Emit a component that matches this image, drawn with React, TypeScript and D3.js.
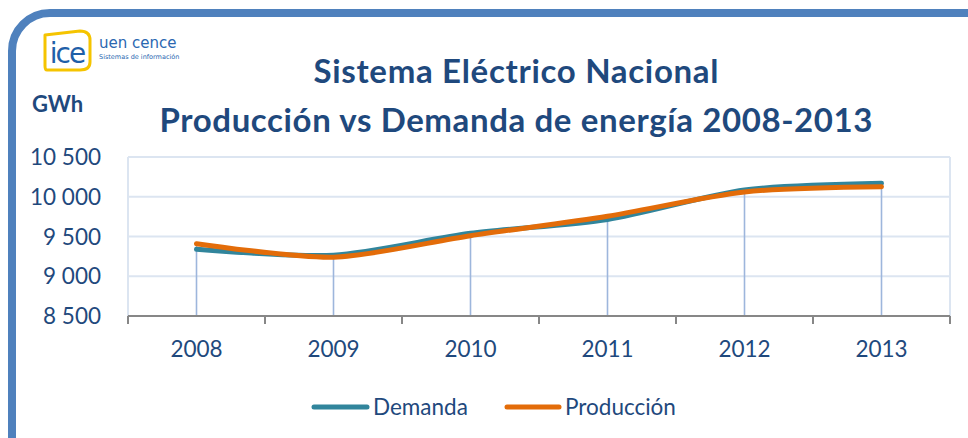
import React from "react";
import * as d3 from "d3";

const years = ["2008", "2009", "2010", "2011", "2012", "2013"];
const demanda = [9340, 9265, 9540, 9715, 10085, 10170];
const produccion = [9410, 9240, 9510, 9755, 10060, 10125];
const yTicks = [8500, 9000, 9500, 10000, 10500];
const seriesNames = ["Demanda", "Producción"];
const titleLines = ["Sistema Eléctrico Nacional", "Producción vs Demanda de energía 2008-2013"];

const W = 968;
const H = 438;
const TEAL = "#31859c";
const ORANGE = "#e36c09";
const TXT = "#1f497d";
const FONT = "Lato, 'Open Sans', sans-serif";

export default function App() {
  const x = d3.scaleBand<string>().domain(years).range([128, 950]).padding(0);
  const y = d3.scaleLinear().domain([8500, 10500]).range([316, 157]);
  const cx = (d: string) => (x(d) as number) + x.bandwidth() / 2;

  const line = d3
    .line<number>()
    .x((_, i) => cx(years[i]))
    .y((v) => y(v))
    .curve(d3.curveCardinal.tension(0.2));

  const fmt = (v: number) => d3.format(",")(v).replace(/,/g, " ");

  const [x0, x1] = x.range();
  const titleWidths = [405, 713];

  return (
    <svg
      width={W}
      height={H}
      style={{ position: "absolute", left: 0, top: 0, background: "#fff" }}
    >
      {/* frame */}
      <rect x={12} y={13} width={995} height={470} rx={38} ry={38} fill="#fff" stroke="#4f81bd" strokeWidth={8} />

      {/* logo */}
      <g>
        <path
          d="M45,35 L80,31 Q90,31 90,40 L90,62 Q90,70 80,70 L47,70 Q45,70 45,66 Z"
          fill="#fff"
          stroke="#f5c400"
          strokeWidth={3}
          strokeLinejoin="round"
        />
        <text x={67} y={63} textAnchor="middle" fontFamily="'DejaVu Sans', sans-serif" fontSize={28} fill="#1f5fa8" letterSpacing={-2}>
          ice
        </text>
        <text x={99} y={48} fontFamily="'DejaVu Sans', sans-serif" fontSize={15} fill="#2a67b1">
          uen cence
        </text>
        <text x={99} y={59} fontFamily="'DejaVu Sans', sans-serif" fontSize={6.5} fill="#2a67b1">
          Sistemas de información
        </text>
      </g>

      {/* GWh */}
      <text x={32} y={112} fontFamily={FONT} fontWeight={700} fontSize={22} fill={TXT}>
        GWh
      </text>

      {/* titles */}
      {titleLines.map((t, i) => (
        <text
          key={t}
          x={516 - titleWidths[i] / 2}
          y={i === 0 ? 83 : 132}
          fontFamily={FONT}
          fontWeight={700}
          fontSize={33}
          fill={TXT}
          textLength={titleWidths[i]}
          lengthAdjust="spacing"
        >
          {t}
        </text>
      ))}

      {/* gridlines */}
      {yTicks.map((t) => (
        <line key={t} x1={x0} x2={x1} y1={y(t)} y2={y(t)} stroke="#dce5f1" strokeWidth={2} />
      ))}
      <line x1={x0} x2={x0} y1={y(10500)} y2={y(8500)} stroke="#dce5f1" strokeWidth={2} />
      <line x1={x1} x2={x1} y1={y(10500)} y2={y(8500)} stroke="#dce5f1" strokeWidth={2} />

      {/* y labels */}
      {yTicks.map((t) => (
        <text key={t} x={101} y={y(t) + 8} textAnchor="end" fontFamily={FONT} fontSize={22.5} fill={TXT}>
          {fmt(t)}
        </text>
      ))}

      {/* drop lines */}
      {years.map((yr, i) => (
        <line
          key={yr}
          x1={cx(yr)}
          x2={cx(yr)}
          y1={y(Math.max(demanda[i], produccion[i]))}
          y2={y(8500)}
          stroke="#9db6dc"
          strokeWidth={1.6}
        />
      ))}

      {/* x axis */}
      <line x1={x0} x2={x1} y1={y(8500)} y2={y(8500)} stroke="#878787" strokeWidth={2} />
      {[...years.map((d) => x(d) as number), x1].map((v, i) => (
        <line key={i} x1={v} x2={v} y1={y(8500)} y2={y(8500) + 8} stroke="#878787" strokeWidth={2} />
      ))}
      {years.map((yr) => (
        <text key={yr} x={cx(yr)} y={357} textAnchor="middle" fontFamily={FONT} fontSize={22.5} fill={TXT}>
          {yr}
        </text>
      ))}

      {/* series */}
      <path d={line(demanda) as string} fill="none" stroke={TEAL} strokeWidth={5} strokeLinecap="round" strokeLinejoin="round" />
      <path d={line(produccion) as string} fill="none" stroke={ORANGE} strokeWidth={5} strokeLinecap="round" strokeLinejoin="round" />

      {/* legend */}
      <line x1={314} x2={367} y1={407} y2={407} stroke={TEAL} strokeWidth={5} strokeLinecap="round" />
      <text x={373} y={415} fontFamily={FONT} fontSize={22.5} fill={TXT}>
        {seriesNames[0]}
      </text>
      <line x1={507} x2={559} y1={407} y2={407} stroke={ORANGE} strokeWidth={5} strokeLinecap="round" />
      <text x={565} y={415} fontFamily={FONT} fontSize={22.5} fill={TXT}>
        {seriesNames[1]}
      </text>
    </svg>
  );
}
